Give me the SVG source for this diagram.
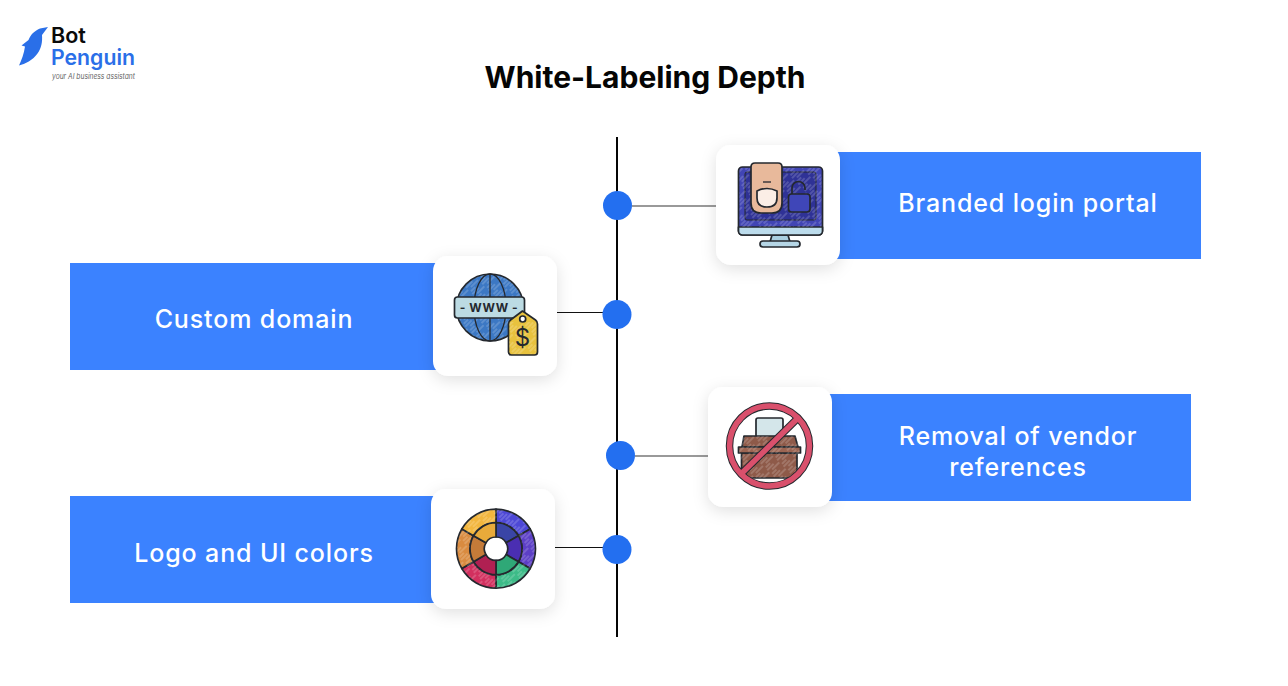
<svg xmlns="http://www.w3.org/2000/svg" width="1288" height="686" viewBox="0 0 1288 686">
<style>
text{font-family:Inter,"Liberation Sans",sans-serif}
.banner{fill:#3b82ff}
.card{fill:#fff;filter:url(#sh)}
.label{fill:#fff;font-size:25px;font-weight:500;text-anchor:middle;letter-spacing:.87px}
.dot{fill:#236ff0}
.stem{stroke:#111;stroke-width:1.2;fill:none}
.stem2{stroke:#777;stroke-width:1.6;fill:none}
.o{stroke:#24282e;stroke-width:1.7;stroke-linejoin:round}
.t{stroke:#24282e;stroke-width:1.3;fill:none}
</style>
<defs>
<filter id="sh" x="-30%" y="-30%" width="160%" height="160%"><feDropShadow dx="0" dy="4" stdDeviation="8" flood-color="#000" flood-opacity=".12"/></filter>
<pattern id="hatch" width="14" height="9" patternUnits="userSpaceOnUse" patternTransform="rotate(-45)"><path d="M0 2h9M4 5h10M1 8h6" stroke="#fff" stroke-opacity=".42" stroke-width=".8" fill="none"/></pattern>
</defs>
<rect width="1288" height="686" fill="#fff"/>
<g id="logo">
<path d="M48 27L40 28.500C34 31 30.500 35 28.500 40L21.500 45.500L25 46.500C24 54 21.500 60 19 65.500C25 64 33 60 37.500 53.500C41.500 48 42.500 42 42 35Z" fill="#2a6fe8"/>
<text x="51" y="43" font-size="21.500" font-weight="600" fill="#0a0a0a">Bot</text>
<text x="51" y="65" font-size="21.500" font-weight="600" fill="#2a6fe8" textLength="84" lengthAdjust="spacingAndGlyphs">Penguin</text>
<text x="52" y="79" font-size="7.500" font-style="italic" fill="#666" textLength="83" lengthAdjust="spacingAndGlyphs">your AI business assistant</text>
</g>
<text id="title" x="645" y="88" font-size="30" font-weight="700" text-anchor="middle" fill="#050505">White-Labeling Depth</text>
<g id="connectors">
<line x1="617" y1="137" x2="617" y2="637" stroke="#050505" stroke-width="2"/>
<line class="stem2" x1="632" y1="206" x2="716" y2="206"/>
<line class="stem" x1="557" y1="312.500" x2="604" y2="312.500"/>
<line class="stem2" x1="635" y1="456" x2="708" y2="456"/>
<line class="stem" x1="555" y1="547.500" x2="604" y2="547.500"/>
<circle class="dot" cx="617.500" cy="205.500" r="14.500"/>
<circle class="dot" cx="617" cy="314.500" r="14.500"/>
<circle class="dot" cx="620.500" cy="455.500" r="14.500"/>
<circle class="dot" cx="617" cy="549.500" r="14.500"/>
</g>
<g id="node-branded-login">
<rect class="banner" x="836" y="152" width="365" height="107"/>
<rect class="card" x="716" y="145" width="124" height="120" rx="15"/>
<path class="o" d="M772 235h16l2 7h-20z" fill="#a9cfe0"/>
<rect class="o" x="760" y="241" width="40" height="6" rx="3" fill="#b5d6e6"/>
<rect class="o" x="738.500" y="167" width="84" height="68" rx="4" fill="#4145b4"/>
<path class="o" d="M738.500 227h84v4a4 4 0 0 1-4 4h-76a4 4 0 0 1-4-4z" fill="#bcdcec"/>
<rect x="745" y="172" width="71" height="48" rx="2" fill="#2f3296" stroke="#24282e"/>
<rect x="739.500" y="168" width="82" height="59" fill="url(#hatch)"/>
<path class="o" d="M751 167q0-4 4-4h23q4 0 4 4v36q0 10-10 10h-11q-10 0-10-10z" fill="#e8b99b"/>
<path class="o" d="M757 191q10-5 20 0v7q0 9-10 9t-10-9z" fill="#fbeee6"/>
<line class="t" x1="763" y1="182" x2="771" y2="182"/>
<path class="o" d="M792 194v-6a6.500 6.500 0 0 1 13 0v2" fill="none"/>
<rect class="o" x="788.500" y="194" width="21.500" height="18" rx="3" fill="#3f46b8"/>
</g>
<g id="node-custom-domain">
<rect class="banner" x="70" y="263" width="367" height="107"/>
<rect class="card" x="433" y="256" width="124" height="120" rx="15"/>
<circle class="o" cx="490" cy="307.500" r="33.500" fill="#3c78c4"/>
<circle cx="490" cy="307.500" r="33" fill="url(#hatch)"/>
<ellipse class="t" cx="490" cy="307.500" rx="16" ry="33.500"/>
<path class="t" d="M490 274v67"/>
<rect class="o" x="454.500" y="297" width="70" height="21" rx="3" fill="#bcdbe3"/>
<text x="489" y="312" font-size="12" font-weight="700" fill="#24282e" text-anchor="middle" letter-spacing=".5" font-family="Liberation Mono,monospace">- WWW -</text>
<path class="o" d="M522.500 311l13 9q2 1.500 2 4v28q0 3-3 3h-23q-3 0-3-3v-28q0-2.500 2-4z" fill="#e8c23e"/>
<rect x="509" y="322" width="27" height="32" fill="url(#hatch)"/>
<circle class="o" cx="522.700" cy="319" r="3" fill="#fff"/>
<text x="522.500" y="346" font-size="24" font-family="Liberation Sans,sans-serif" fill="#24282e" text-anchor="middle">$</text>
</g>
<g id="node-removal">
<rect class="banner" x="828" y="394" width="363" height="107"/>
<rect class="card" x="708" y="387" width="124" height="120" rx="15"/>
<rect class="o" x="756" y="418" width="27" height="26" rx="2" fill="#d4e6ea"/>
<path class="o" d="M744 436h51l3 11h-56z" fill="#8e5a49"/>
<rect class="o" x="741.500" y="453" width="55.500" height="25" fill="#8e5a49"/>
<rect class="o" x="738.500" y="447" width="62" height="6" fill="#9c6552"/>
<rect x="739" y="436" width="61" height="42" fill="url(#hatch)"/>
<circle cx="769.500" cy="446" r="40" fill="none" stroke="#24282e" stroke-width="7.500"/>
<line x1="741" y1="474" x2="798" y2="418" stroke="#24282e" stroke-width="7.500"/>
<circle cx="769.500" cy="446" r="40" fill="none" stroke="#d9506c" stroke-width="5.500"/>
<line x1="741" y1="474" x2="798" y2="418" stroke="#d9506c" stroke-width="5.500"/>
</g>
<g id="node-logo-colors">
<rect class="banner" x="70" y="496" width="365" height="107"/>
<rect class="card" x="431" y="489" width="124" height="120" rx="15"/>
<g class="o">
<path d="M496 509.200A39.500 39.500 0 0 1 530.200 529L518.500 535.700A26 26 0 0 0 496 522.700Z" fill="#4d48d6"/>
<path d="M530.200 529A39.500 39.500 0 0 1 530.200 568.500L518.500 561.700A26 26 0 0 0 518.500 535.700Z" fill="#5c3fc6"/>
<path d="M530.200 568.500A39.500 39.500 0 0 1 496 588.200V574.700A26 26 0 0 0 518.500 561.700Z" fill="#3dbb88"/>
<path d="M496 588.200A39.500 39.500 0 0 1 461.800 568.500L473.500 561.700A26 26 0 0 0 496 574.700Z" fill="#d2305f"/>
<path d="M461.800 568.500A39.500 39.500 0 0 1 461.800 529L473.500 535.700A26 26 0 0 0 473.500 561.700Z" fill="#d98b40"/>
<path d="M461.800 529A39.500 39.500 0 0 1 496 509.200V522.700A26 26 0 0 0 473.500 535.700Z" fill="#f2b63e"/>
<path d="M496 522.700A26 26 0 0 1 518.500 535.700L506.100 542.850A11.700 11.700 0 0 0 496 537Z" fill="#3a45a6"/>
<path d="M518.500 535.700A26 26 0 0 1 518.500 561.700L506.100 554.550A11.700 11.700 0 0 0 506.100 542.850Z" fill="#4a2eb2"/>
<path d="M518.500 561.700A26 26 0 0 1 496 574.700V560.400A11.700 11.700 0 0 0 506.100 554.550Z" fill="#2fa877"/>
<path d="M496 574.700A26 26 0 0 1 473.500 561.700L485.900 554.550A11.700 11.700 0 0 0 496 560.400Z" fill="#b02052"/>
<path d="M473.500 561.700A26 26 0 0 1 473.500 535.700L485.900 542.850A11.700 11.700 0 0 0 485.900 554.550Z" fill="#c47b39"/>
<path d="M473.500 535.700A26 26 0 0 1 496 522.700V537A11.700 11.700 0 0 0 485.900 542.850Z" fill="#e8aa3a"/>
</g>
<circle cx="496" cy="548.700" r="32.700" fill="none" stroke="url(#hatch)" stroke-width="12.500"/>
</g>
<g id="labels">
<text class="label" x="1028" y="212">Branded login portal</text>
<text class="label" x="254" y="328">Custom domain</text>
<text class="label" x="1018" y="445">Removal of vendor</text>
<text class="label" x="1018" y="476">references</text>
<text class="label" x="254" y="562">Logo and UI colors</text>
</g>
</svg>
